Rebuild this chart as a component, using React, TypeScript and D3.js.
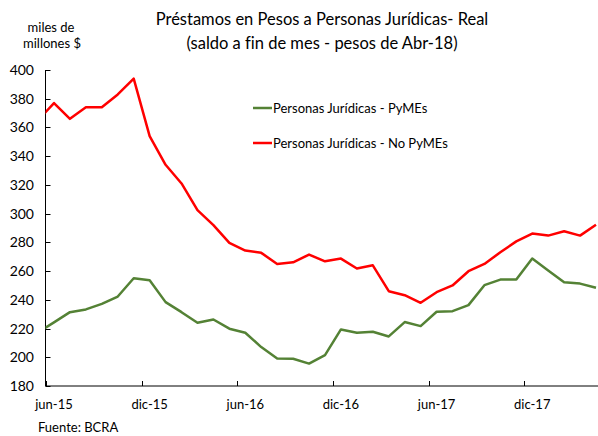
import React from 'react';
import * as d3 from 'd3';

// months from may-15 to abr-18 (may-15 sits left of the axis and gets clipped)
const months = [
  'may-15', 'jun-15', 'jul-15', 'ago-15', 'sep-15', 'oct-15', 'nov-15', 'dic-15',
  'ene-16', 'feb-16', 'mar-16', 'abr-16', 'may-16', 'jun-16', 'jul-16', 'ago-16',
  'sep-16', 'oct-16', 'nov-16', 'dic-16', 'ene-17', 'feb-17', 'mar-17', 'abr-17',
  'may-17', 'jun-17', 'jul-17', 'ago-17', 'sep-17', 'oct-17', 'nov-17', 'dic-17',
  'ene-18', 'feb-18', 'mar-18', 'abr-18'
];

const pymes = [
  217.4, 224.3, 231.4, 233.3, 237.2, 242.3, 255, 253.6,
  238.4, 231.4, 224, 226.3, 219.9, 217.1, 207.1, 199.2,
  199, 195.6, 201.5, 219.4, 217.1, 217.8, 214.5, 224.5,
  221.7, 231.7, 232.1, 236.3, 250.2, 254.1, 254.1, 268.7,
  260.4, 252.2, 251.3, 248.4
];

const noPymes = [
  365, 377, 366, 374, 374, 383, 394, 354,
  334, 321, 302.5, 292, 279.6, 274.3, 272.7, 265,
  266.1, 271.5, 266.8, 268.7, 261.8, 264, 246, 243.2,
  237.9, 245.3, 250, 259.9, 265, 273.1, 280.7, 286.1,
  284.7, 287.7, 284.7, 292.3
];

const yTicks = [180, 200, 220, 240, 260, 280, 300, 320, 340, 360, 380, 400];
const xLabels = ['jun-15', 'dic-15', 'jun-16', 'dic-16', 'jun-17', 'dic-17'];

const seriesNames = ['Personas Jurídicas - PyMEs', 'Personas Jurídicas - No PyMEs'];
const colors = ['#548235', '#ff0000'];

const W = 598;
const H = 436;
const font = 'Lato, "Noto Sans", sans-serif';

export default function App() {
  const left = 45.5;
  const x = d3.scaleLinear().domain([1, 35]).range([54, 596]);
  const y = d3.scaleLinear().domain([180, 400]).range([386, 70]);

  const line = d3.line<number>()
    .x((d, i) => x(i))
    .y(d => y(d));

  return (
    <svg width={W} height={H}
      style={{ position: 'absolute', left: 0, top: 0, background: '#fff', fontVariantLigatures: 'none' }}
      fontFamily={font}>
      <defs>
        <clipPath id="plot">
          <rect x={left} y={0} width={W} height={H} />
        </clipPath>
      </defs>

      <text x={322} y={25} textAnchor="middle" fontSize={16.5} fill="#000">
        Préstamos en Pesos a Personas Jurídicas- Real
      </text>
      <text x={322} y={49} textAnchor="middle" fontSize={16.5} fill="#000">
        (saldo a fin de mes - pesos de Abr-18)
      </text>

      <text x={51} y={32} textAnchor="middle" fontSize={13} fill="#000">miles de</text>
      <text x={52} y={48} textAnchor="middle" fontSize={13} fill="#000">millones $</text>

      {/* y axis */}
      <line x1={left} x2={left} y1={y(400)} y2={y(180)} stroke="#000" strokeWidth={1} />
      {yTicks.map(t => (
        <g key={t}>
          <line x1={left} x2={left + 5} y1={Math.round(y(t)) + 0.5} y2={Math.round(y(t)) + 0.5}
            stroke="#000" strokeWidth={1} />
          <text x={34} y={y(t) + 5} textAnchor="end" fontSize={14} fill="#000">{t}</text>
        </g>
      ))}

      {/* x axis */}
      <line x1={left} x2={W} y1={386} y2={386} stroke="#000" strokeWidth={1} />
      {xLabels.map(lbl => {
        const i = months.indexOf(lbl);
        const tx = Math.round(x(i - 0.5)) + 0.5;
        return (
          <g key={lbl}>
            <line x1={tx} x2={tx} y1={386} y2={381} stroke="#000" strokeWidth={1} />
            <text x={x(i)} y={409} textAnchor="middle" fontSize={13} fill="#000">{lbl}</text>
          </g>
        );
      })}

      <g clipPath="url(#plot)">
        <path d={line(pymes) || ''} fill="none" stroke={colors[0]} strokeWidth={2.5} strokeLinejoin="round" />
        <path d={line(noPymes) || ''} fill="none" stroke={colors[1]} strokeWidth={2.5} strokeLinejoin="round" />
      </g>

      {/* legend */}
      {seriesNames.map((n, k) => (
        <g key={n} transform={`translate(253, ${108 + k * 35})`}>
          <line x1={0} x2={19} y1={0} y2={0} stroke={colors[k]} strokeWidth={2.5} />
          <text x={20} y={5} fontSize={13} fill="#000">{n}</text>
        </g>
      ))}

      <text x={38} y={432} fontSize={13} fill="#000">Fuente: BCRA</text>
    </svg>
  );
}
